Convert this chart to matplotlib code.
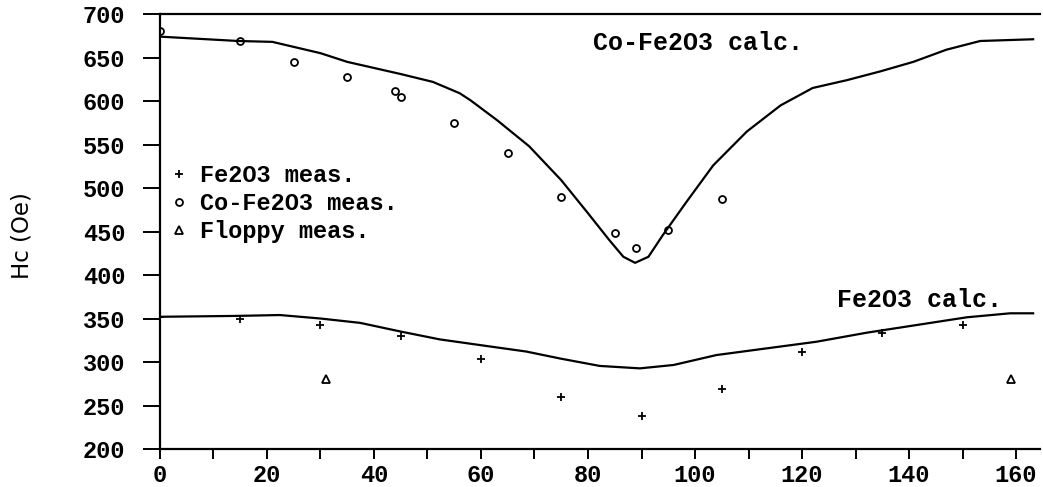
import matplotlib.pyplot as plt
from matplotlib.ticker import MultipleLocator, FuncFormatter

# Measured coercivity, Fe2O3 media
fe_meas_angle = [0, 15, 30, 45, 60, 75, 90, 105, 120, 135, 150]
fe_meas_hc = [352, 350, 342, 330, 303, 260, 238, 269, 311, 333, 343]

# Measured coercivity, Co-Fe2O3 media
co_meas_angle = [0, 15, 25, 35, 44, 45, 55, 65, 75, 85, 89, 95, 105]
co_meas_hc = [681, 669, 645, 628, 612, 605, 575, 540, 490, 448, 431, 452, 487]

# Floppy disk measurements
floppy_angle = [31, 159]
floppy_hc = [280, 281]

# Calculated curves
co_calc_angle = [0, 14.6, 21, 30, 35, 40, 45, 51, 56, 58, 63, 69, 75, 80, 84,
                 86.6, 88.8, 91.3, 94, 98.4, 103.4, 109.7, 116, 122, 128.4,
                 134.6, 140.8, 147, 153.3, 163.2]
co_calc_hc = [674, 669, 668, 655, 645, 638, 631, 622, 609, 601, 578, 548, 509,
              471, 440, 421, 414, 421, 446, 484, 526, 565, 595, 615, 624,
              634, 645, 659, 669, 671]

fe_calc_angle = [0, 14.3, 22.4, 30, 37.4, 45, 52.3, 59.8, 68.5, 74.8, 82.2, 89.7,
                 96, 104, 113.4, 122.7, 132.1, 141.4, 150.8, 158.9, 163.2]
fe_calc_hc = [352, 353, 354, 350, 345, 335, 326, 319.5, 312, 304, 295.5, 292.7,
              296.6, 308, 315.7, 323.3, 333.7, 342.5, 351.4, 356, 356]

mono = 'Liberation Mono'

fig = plt.figure(figsize=(10.43, 4.87), dpi=100)
ax = fig.add_axes([0.1534, 0.078, 0.8438, 0.8932])

ax.plot(co_calc_angle, co_calc_hc, color='black', lw=1.6)
ax.plot(fe_calc_angle, fe_calc_hc, color='black', lw=1.6)

ax.plot(fe_meas_angle, fe_meas_hc, linestyle='none', marker='+', color='black',
        markersize=6, mew=1.3, label='Fe2O3 meas.')
ax.plot(co_meas_angle, co_meas_hc, linestyle='none', marker='o', color='black',
        markerfacecolor='none', markersize=5, mew=1.3, label='Co-Fe2O3 meas.')
ax.plot(floppy_angle, floppy_hc, linestyle='none', marker='^', color='black',
        markerfacecolor='none', markersize=6, mew=1.3, label='Floppy meas.')

ax.text(80.9, 667, 'Co-Fe2O3 calc.', family=mono, fontweight='bold', fontsize=18,
        va='center', ha='left')
ax.text(126.5, 371, 'Fe2O3 calc.', family=mono, fontweight='bold', fontsize=18,
        va='center', ha='left', clip_on=False)

ax.legend(loc='upper left', bbox_to_anchor=(0.0, 0.676), frameon=False,
          prop={'family': mono, 'weight': 'bold', 'size': 17},
          handlelength=0.8, handletextpad=0.5, labelspacing=0.2,
          borderaxespad=0.0)

ax.set_xlim(0, 164.5)
ax.set_ylim(200, 700)
ax.xaxis.set_major_locator(MultipleLocator(10))
ax.xaxis.set_major_formatter(FuncFormatter(lambda v, p: f'{int(v)}' if int(v) % 20 == 0 else ''))
ax.yaxis.set_major_locator(MultipleLocator(50))

ax.tick_params(axis='both', direction='out', width=1.4, colors='black')
ax.tick_params(axis='x', length=7, pad=4)
ax.tick_params(axis='y', length=12, pad=13)
for lab in ax.get_xticklabels() + ax.get_yticklabels():
    lab.set_family(mono)
    lab.set_fontweight('bold')
    lab.set_fontsize(17)

ax.spines['right'].set_visible(False)
for s in ['left', 'bottom', 'top']:
    ax.spines[s].set_linewidth(1.6)

ax.set_ylabel('Hc (Oe)', family='DejaVu Sans', fontsize=16.5)
ax.yaxis.set_label_coords(-0.1443, 0.49)

fig.savefig('out.png', dpi=100, facecolor='white')
